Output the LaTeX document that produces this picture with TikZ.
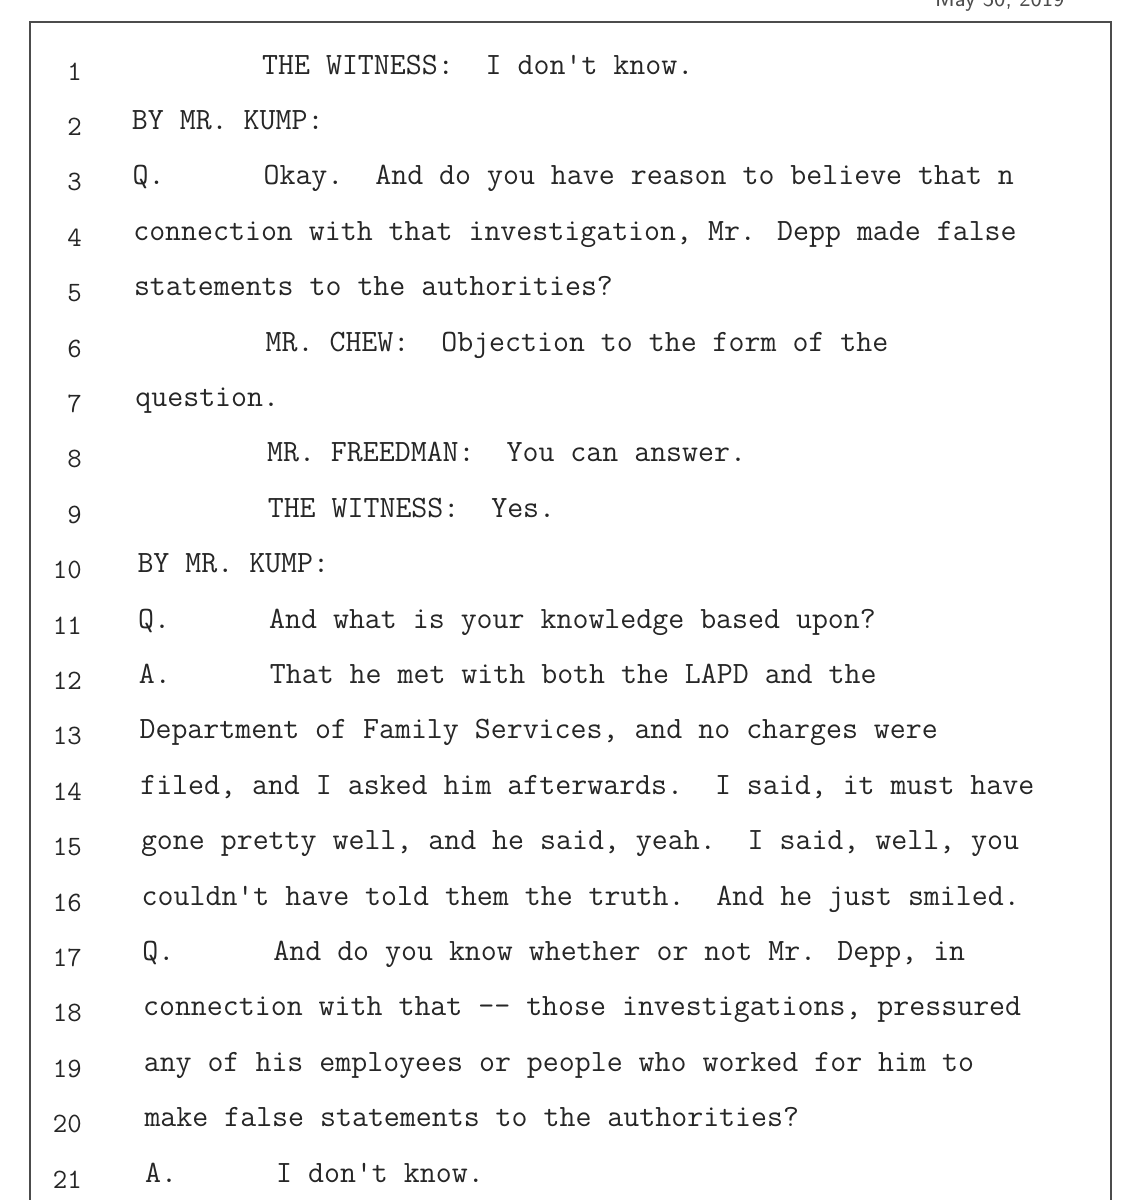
\documentclass[tikz,border=0pt]{standalone}
\usepackage{fontspec}
\begin{document}
\begin{tikzpicture}[x=1pt,y=-1pt,
  txt/.style={anchor=base west,inner sep=0,font=\ttfamily\fontsize{31}{31}\selectfont,text=black!85},
  num/.style={anchor=base east,inner sep=0,font=\ttfamily\fontsize{28}{28}\selectfont,text=black!85}]
\useasboundingbox (0,0) rectangle (1138,1200);
\clip (0,0) rectangle (1138,1200);
\fill[white] (0,0) rectangle (1138,1200);
\node[txt,text=black!70,font=\sffamily\fontsize{24}{24}\selectfont] (hdr) at (935,6) {May 30, 2019};
\draw[black!70,line width=1.6pt] (30,1215) -- (30,22) -- (1111,22) -- (1111,1215);
\foreach \i/\a/\b in {
 1//{THE WITNESS:\ \ I don't know.},
 2/{BY MR. KUMP:}/,
 3/{Q.}/{Okay.\ \ And do you have reason to believe that n},
 4/{connection with that investigation, Mr. Depp made false}/,
 5/{statements to the authorities?}/,
 6//{MR. CHEW:\ \ Objection to the form of the},
 7/{question.}/,
 8//{MR. FREEDMAN:\ \ You can answer.},
 9//{THE WITNESS:\ \ Yes.},
 10/{BY MR. KUMP:}/,
 11/{Q.}/{And what is your knowledge based upon?},
 12/{A.}/{That he met with both the LAPD and the},
 13/{Department of Family Services, and no charges were}/,
 14/{filed, and I asked him afterwards.\ \ I said, it must have}/,
 15/{gone pretty well, and he said, yeah.\ \ I said, well, you}/,
 16/{couldn't have told them the truth.\ \ And he just smiled.}/,
 17/{Q.}/{And do you know whether or not Mr. Depp, in},
 18/{connection with that -{}- those investigations, pressured}/,
 19/{any of his employees or people who worked for him to}/,
 20/{make false statements to the authorities?}/,
 21/{A.}/{I don't know.}}{
  \pgfmathsetmacro\yy{74+(\i-1)*55.4}
  \pgfmathsetmacro\xx{131+(\i-1)*0.7}
  \node[num] (n\i) at (82,\yy+6) {\i};
  \node[txt] (a\i) at (\xx,\yy) {\a};
  \node[txt] (b\i) at (\xx+131,\yy) {\b};
}
\end{tikzpicture}
\end{document}
